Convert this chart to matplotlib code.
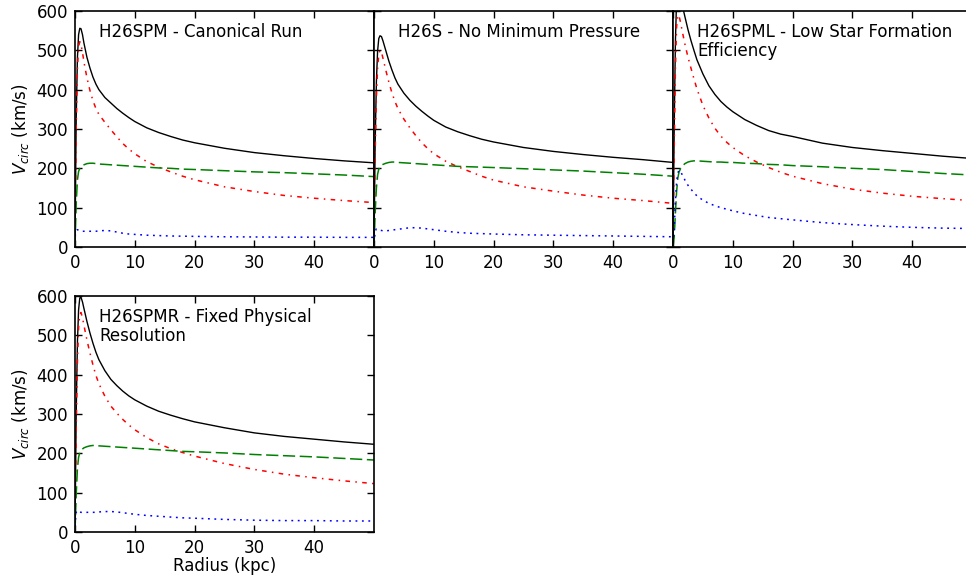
import matplotlib
matplotlib.use("Agg")
import matplotlib.pyplot as plt

radius = [0, 0.2, 0.4, 0.6, 0.8, 1.0, 1.25, 1.5, 2, 2.5, 3, 3.5, 4, 5, 6, 7, 8, 9, 10,
          12, 14, 16, 18, 20, 25, 30, 35, 40, 45, 50]

titles = ["H26SPM - Canonical Run",
          "H26S - No Minimum Pressure",
          "H26SPML - Low Star Formation\nEfficiency",
          "H26SPMR - Fixed Physical\nResolution"]

# Panel 1: H26SPM
spm_total = [0, 325, 480, 540, 556, 555, 540, 518, 482, 455, 432, 414, 400, 380, 366, 352, 340, 329, 319,
             303, 291, 281, 272, 265, 251, 240, 232, 225, 219, 214]
spm_stars = [0, 300, 450, 510, 522, 515, 495, 470, 430, 398, 372, 352, 337, 317, 298, 280, 263, 249, 237,
             217, 203, 191, 180, 171, 153, 141, 131, 124, 118, 113]
spm_dm    = [0, 110, 170, 192, 200, 204, 207, 209, 212, 213, 213, 212, 211, 210, 209, 208, 207, 206, 205,
             203, 201, 200, 198, 197, 194, 191, 189, 186, 183, 179]
spm_gas   = [28, 42, 44, 43, 41, 40, 40, 40, 40, 40, 40, 40, 41, 42, 41, 38, 35, 33, 32,
             30, 29, 28, 27.5, 27, 26, 25.5, 25, 25, 24.5, 24.5]

# Panel 2: H26S
s_total = [0, 270, 420, 498, 530, 537, 535, 524, 498, 472, 450, 430, 414, 391, 373, 358, 345, 333, 322,
           305, 293, 283, 274, 267, 253, 243, 235, 228, 222, 215]
s_stars = [0, 240, 380, 455, 490, 500, 495, 480, 448, 418, 392, 370, 352, 325, 303, 283, 265, 250, 237,
           218, 204, 192, 180, 170, 153, 142, 132, 124, 118, 111]
s_dm    = [0, 90, 150, 185, 198, 204, 208, 210, 213, 215, 216, 216, 215, 214, 213, 212, 211, 210, 209,
           207, 205, 204, 203, 202, 199, 196, 193, 189, 185, 180]
s_gas   = [10, 40, 46, 46, 44, 43, 42, 41, 41, 42, 43, 44, 45, 47, 49, 49, 48, 46, 44,
           40, 37, 35, 34, 33, 31, 30, 29, 28, 27, 26]

# Panel 3: H26SPML
spml_total = [0, 300, 520, 630, 650, 650, 637, 618, 585, 553, 525, 500, 476, 440, 410, 388, 370, 356, 344,
              324, 309, 296, 287, 281, 264, 253, 245, 238, 231, 225]
spml_stars = [0, 250, 450, 560, 590, 588, 572, 552, 515, 483, 455, 428, 402, 360, 328, 302, 282, 266, 253,
              232, 216, 202, 190, 180, 161, 147, 137, 129, 123, 118]
spml_dm    = [0, 25, 85, 140, 175, 190, 199, 205, 212, 216, 218, 219, 219, 218, 217, 216, 216, 215, 215,
              213, 212, 210, 209, 207, 204, 200, 197, 192, 187, 183]
spml_gas   = [10, 45, 115, 165, 188, 195, 192, 185, 170, 157, 147, 138, 130, 119, 111, 105, 100, 96, 92,
              85, 80, 75, 72, 69, 62, 57, 53, 50, 48, 47]

# Panel 4: H26SPMR
spmr_total = [0, 300, 480, 565, 595, 597, 585, 568, 535, 506, 480, 457, 438, 410, 388, 372, 358, 346, 336,
              320, 307, 297, 288, 280, 265, 252, 243, 236, 229, 223]
spmr_stars = [0, 260, 430, 520, 553, 558, 545, 525, 488, 455, 425, 398, 377, 345, 320, 302, 286, 272, 260,
              240, 224, 212, 202, 193, 174, 159, 147, 138, 130, 123]
spmr_dm    = [0, 95, 160, 190, 202, 207, 211, 214, 217, 219, 220, 220, 219, 218, 217, 216, 215, 214, 213,
              211, 209, 207, 205, 204, 201, 197, 194, 191, 187, 183]
spmr_gas   = [15, 50, 55, 53, 51, 50, 50, 50, 50, 50, 50, 50, 51, 52, 52, 51, 49, 47, 45,
              42, 40, 38, 36, 35, 32, 30, 29, 29, 28, 28]

panels = [
    (spm_total, spm_stars, spm_dm, spm_gas),
    (s_total, s_stars, s_dm, s_gas),
    (spml_total, spml_stars, spml_dm, spml_gas),
    (spmr_total, spmr_stars, spmr_dm, spmr_gas),
]

xticks = [0, 10, 20, 30, 40]
yticks = [0, 100, 200, 300, 400, 500, 600]

W, H = 966, 575
fig = plt.figure(figsize=(W / 100, H / 100), dpi=100)

# axes rectangles in pixels: (left, top, width, height)
px = [(75, 11, 299, 236), (374, 11, 299, 236), (673, 11, 299, 236), (75, 296, 299, 236)]

for i, (rect, data, title) in enumerate(zip(px, panels, titles)):
    l, t, w, h = rect
    ax = fig.add_axes([l / W, 1 - (t + h) / H, w / W, h / H])
    total, stars, dm, gas = data
    ax.plot(radius, total, color='k', lw=1.0, ls='-')
    ax.plot(radius, stars, color='r', lw=1.1, ls=(0, (3, 3.5, 1, 3.5)))
    ax.plot(radius, dm, color='g', lw=1.1, ls=(0, (8, 3)))
    ax.plot(radius, gas, color='b', lw=1.1, ls=(0, (1.2, 3)))
    ax.set_xlim(0, 50)
    ax.set_ylim(0, 600)
    ax.set_xticks(xticks)
    ax.set_yticks(yticks)
    ax.tick_params(direction='in', top=True, right=(i != 2), length=5, width=1,
                   labelsize=12, pad=5)
    for sp in ax.spines.values():
        sp.set_linewidth(1.2)
    if i in (1, 2):
        ax.set_yticklabels([])
    else:
        ax.set_ylabel(r'$V_{circ}$ (km/s)', fontsize=12, labelpad=4)
    if i == 3:
        ax.set_xlabel('Radius (kpc)', fontsize=12, labelpad=0)
    ax.text(0.08, 0.95, title, transform=ax.transAxes, ha='left', va='top',
            fontsize=12, linespacing=1.1)

fig.savefig('out.png', dpi=100)
